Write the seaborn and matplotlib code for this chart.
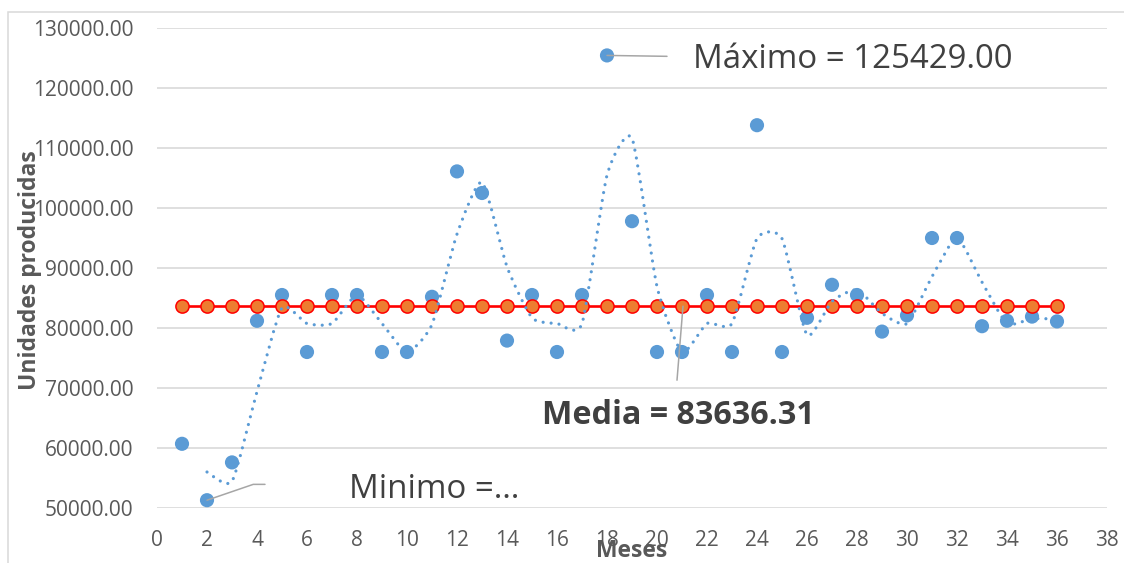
import numpy as np
import pandas as pd
import matplotlib
matplotlib.use("Agg")
import matplotlib.pyplot as plt
from matplotlib.path import Path
from matplotlib.patches import PathPatch, Rectangle
import seaborn as sns

# Monthly production data
meses = list(range(1, 37))
unidades = [60700, 51300, 57600, 81200, 85500, 76000, 85500, 85500, 76000, 76000,
            85200, 106100, 102500, 77900, 85500, 76000, 85500, 125429, 97800, 76000,
            76000, 85500, 76000, 113800, 76000, 81700, 87200, 85500, 79400, 82100,
            95000, 95000, 80300, 81200, 81900, 81100]
MEDIA = 83636.31
y_ticks = [50000, 60000, 70000, 80000, 90000, 100000, 110000, 120000, 130000]
x_ticks = list(range(0, 40, 2))

AZUL = "#5B9BD5"
NARANJA = "#ED7D31"
ROJO = "#FF0000"
GRIS_TXT = "#595959"
GRIS_OSC = "#404040"
GRIS_GRID = "#D9D9D9"
GRIS_GUIA = "#A6A6A6"

sns.set_style("white")
plt.rcParams["font.family"] = ["Open Sans", "DejaVu Sans"]

df = pd.DataFrame({"Meses": meses, "Unidades": unidades})
df["Media"] = MEDIA
df["MM2"] = df["Unidades"].rolling(2).mean()

fig = plt.figure(figsize=(11.24, 5.63), dpi=100)
ax = fig.add_axes([157 / 1124, 1 - 508 / 563, 950 / 1124, 480 / 563])

# Chart border
fig.patches.append(Rectangle((7.5 / 1124, -0.2), 1.2, 1.2 - 11.5 / 563,
                             transform=fig.transFigure, fill=False,
                             edgecolor=GRIS_GRID, lw=1.1, zorder=0))

# Production points
sns.scatterplot(data=df, x="Meses", y="Unidades", ax=ax, color=AZUL, s=104,
                edgecolor="none", zorder=3, legend=False)

# Mean series
sns.lineplot(data=df, x="Meses", y="Media", ax=ax, color=ROJO, lw=1.9,
             marker="o", markersize=9.5, markerfacecolor=NARANJA,
             markeredgecolor=ROJO, markeredgewidth=1.1, zorder=4, legend=False)


def suavizar(xs, ys, k=0.1):
    """Bezier path through the points with gentle smoothing."""
    pts = np.column_stack([xs, ys]).astype(float)
    n = len(pts)
    verts = [pts[0]]
    codes = [Path.MOVETO]
    for i in range(n - 1):
        p0 = pts[i - 1] if i > 0 else pts[i]
        p1 = pts[i]
        p2 = pts[i + 1]
        p3 = pts[i + 2] if i + 2 < n else pts[i + 1]
        verts += [p1 + (p2 - p0) * k, p2 - (p3 - p1) * k, p2]
        codes += [Path.CURVE4] * 3
    return Path(verts, codes)


# Two-period moving average trend line
mm = df.dropna(subset=["MM2"])
ax.add_patch(PathPatch(suavizar(mm["Meses"], mm["MM2"]), fill=False,
                       edgecolor=AZUL, lw=2.3, linestyle=(0, (0.01, 2.5)),
                       capstyle="round", zorder=5))

# Axes styling
ax.set_xlim(0, 38)
ax.set_ylim(50000, 130000)
ax.set_xticks(x_ticks)
ax.set_yticks(y_ticks)
ax.set_yticklabels([f"{v:.2f}" for v in y_ticks])
ax.tick_params(axis="both", length=0, labelsize=15, labelcolor=GRIS_TXT)
ax.tick_params(axis="y", pad=17)
ax.tick_params(axis="x", pad=16)
ax.grid(axis="y", color=GRIS_GRID, lw=1.2)
ax.grid(axis="x", visible=False)
ax.set_axisbelow(True)
for sp in ax.spines.values():
    sp.set_visible(False)

ax.set_xlabel("Meses", fontsize=16.5, fontweight="bold", color=GRIS_TXT, va="center")
ax.xaxis.set_label_coords(0.5, -0.09)
ax.set_ylabel("Unidades producidas", fontsize=16.5, fontweight="bold",
              color=GRIS_TXT, va="center")
ax.yaxis.set_label_coords(-0.1337, 0.495)

# Annotations
i_max = int(np.argmax(unidades))
i_min = int(np.argmin(unidades))
x_max, y_max = meses[i_max], unidades[i_max]
x_min, y_min = meses[i_min], unidades[i_min]

ax.plot([x_max, x_max + 2.4], [y_max, y_max - 150], color=GRIS_GUIA, lw=1.1, zorder=4)
ax.text(21.44, y_max - 750, f"Máximo = {y_max:.2f}", fontsize=23.8,
        color=GRIS_OSC, va="center", ha="left", zorder=6)

ax.plot([21.04, 20.8], [MEDIA, 71300], color=GRIS_GUIA, lw=1.1, zorder=4)
ax.text(20.84, 65450, f"Media = {MEDIA:.2f}", fontsize=23.2, fontweight="bold",
        color=GRIS_OSC, va="center", ha="center", zorder=6)

ax.plot([x_min, 3.85, 4.32], [y_min, 53940, 53940], color=GRIS_GUIA, lw=1.1, zorder=4)
ax.text(7.68, 53000, "Minimo =…", fontsize=23.8, color=GRIS_OSC,
        va="center", ha="left", zorder=6)

fig.savefig("out.png", dpi=100)
